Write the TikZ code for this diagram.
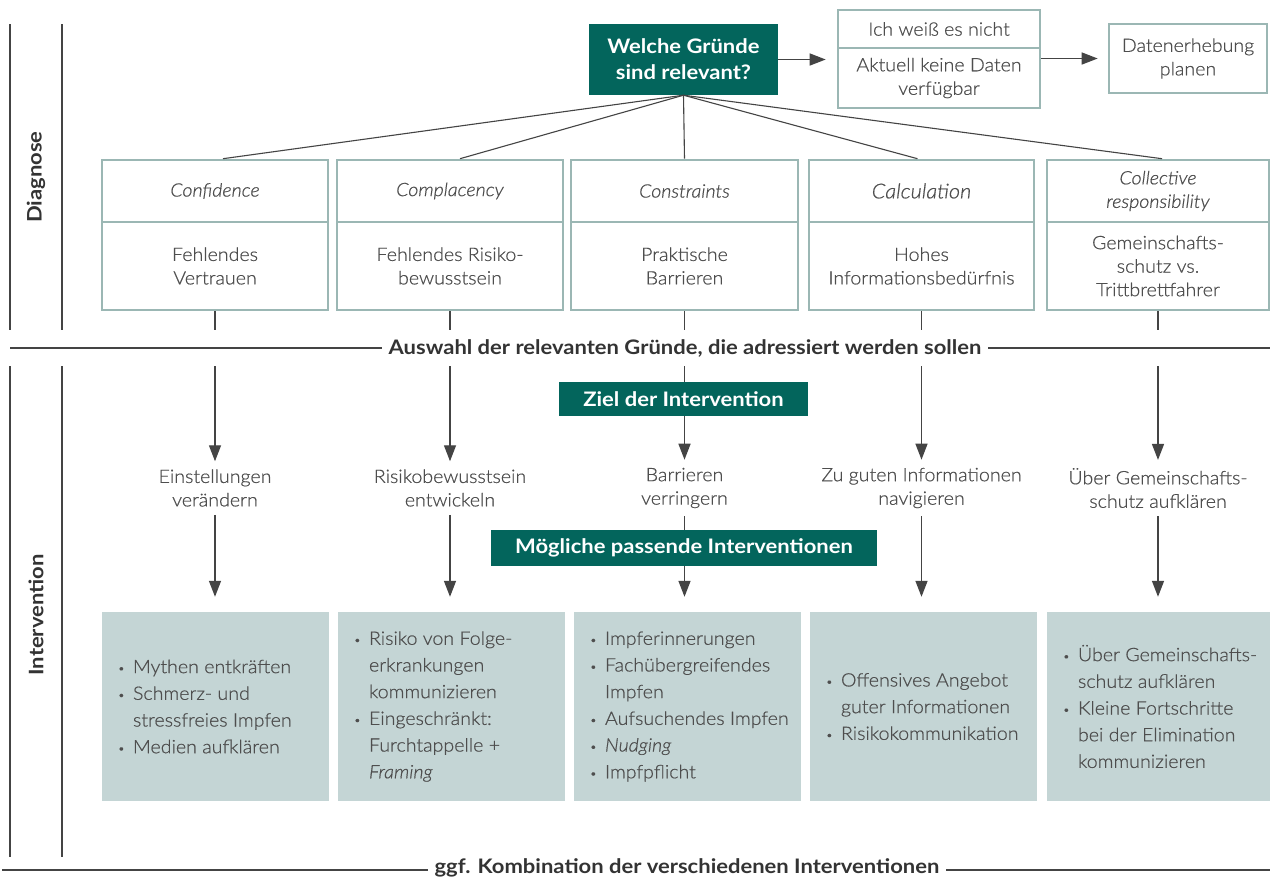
\documentclass[tikz,border=0pt]{standalone}
\usepackage{fontspec}
\setmainfont{Lato}[UprightFont=* Light, ItalicFont=* Light Italic, BoldFont=* Bold, FakeStretch=1.06, FakeBold=0.6]
\newfontfamily\hb{Lato}[UprightFont=* Bold, FakeStretch=1.1]
\usetikzlibrary{arrows.meta}
\definecolor{tealg}{RGB}{3,101,92}
\definecolor{bordg}{RGB}{155,183,180}
\definecolor{fillg}{RGB}{196,213,213}
\definecolor{lineg}{RGB}{68,68,68}
\definecolor{txtg}{RGB}{78,78,78}
\definecolor{darkg}{RGB}{51,51,51}
\newcommand{\bl}{\makebox[15pt][l]{\raisebox{1pt}{\fontsize{11}{11}\selectfont •}}}
\newcommand{\ct}{\hspace*{15pt}}
\begin{document}
\begin{tikzpicture}[x=1pt,y=-1pt,
  ln/.style={draw=lineg, line width=1.4pt},
  thinln/.style={draw=lineg, line width=1.1pt},
  arr/.style={ln, -{Triangle[length=16pt,width=12pt]}},
  gbox/.style={fill=tealg, text=white, font=\hb\fontsize{20}{26}\selectfont, align=center, inner sep=0},
  obox/.style={draw=bordg, line width=2.6pt, align=center, text=txtg, inner sep=0, font=\fontsize{18.5}{23.5}\selectfont},
  ibox/.style={fill=fillg, inner sep=0},
  lbl/.style={text=txtg, align=center, inner xsep=0, inner ysep=8, font=\fontsize{18.5}{23.5}\selectfont},
  itm/.style={text=txtg, align=left, inner sep=0, font=\fontsize{18.5}{26.7}\selectfont},
  sect/.style={text=darkg, font=\hb\fontsize{20}{20}\selectfont},
  divl/.style={fill=white, inner xsep=7, inner ysep=2, text=darkg, font=\hb\fontsize{20}{20}\selectfont}
]
\useasboundingbox (0,0) rectangle (1270,879);
\fill[white] (0,0) rectangle (1270,879);

% left section rules
\draw[ln] (10,24) -- (10,330);
\draw[ln] (62,24) -- (62,330);
\draw[ln] (10,366) -- (10,857);
\draw[ln] (62,366) -- (62,857);
\node[sect, rotate=90] (dg) at (36,177) {Diagnose};
\node[sect, rotate=90] (iv) at (36,615) {Intervention};

% dividers
\draw[ln] (10,348) -- (1270,348);
\node[divl] (auswahl) at (685,348) {Auswahl der relevanten Gründe, die adressiert werden sollen};
\draw[ln] (2,870) -- (1270,870);
\node[divl] (kombi) at (687,868) {ggf. Kombination der verschiedenen Interventionen};

% top
\node[gbox, minimum width=189, minimum height=71] (q) at (683.5,59.5) {Welche Gründe\\sind relevant?};
\node[obox, minimum width=202, minimum height=38] (ich) at (939,29) {Ich weiß es nicht};
\node[obox, minimum width=202, minimum height=60] (akt) at (939,78) {Aktuell keine Daten\\verfügbar};
\node[obox, minimum width=158, minimum height=69] (dat) at (1188,58.5) {Datenerhebung\\planen};
\draw[arr, shorten >=11pt] (q.east) -- (q.east -| akt.west);
\draw[arr, shorten >=10pt] (akt.east |- dat.west) -- (dat.west);

% columns
\foreach \i/\cx/\w/\hd/\bd/\gl/\bx/\bw/\off in {
  1/215/226/{\textit{Confidence}}/{Fehlendes\\Vertrauen}/{Einstellungen\\verändern}/215.5/227/8,
  2/450/226/{\textit{Complacency}}/{Fehlendes Risiko-\\bewusstsein}/{Risikobewusstsein\\entwickeln}/451.5/227/10,
  3/684.5/227/{\textit{Constraints}}/{Praktische\\Barrieren}/{Barrieren\\verringern}/687.5/227/0,
  4/921.5/225/{\fontsize{20.5}{24}\selectfont\textit{Calculation}}/{Hohes\\Informationsbedürfnis}/{Zu guten Informationen\\navigieren}/923.5/227/-4,
  5/1158/222/{\textit{Collective}\\\textit{responsibility}}/{Gemeinschafts-\\schutz vs.\\Trittbrettfahrer}/{Über Gemeinschafts-\\schutz aufklären}/1158.5/223/4}
{
  \node[obox, minimum width=\w, minimum height=62] (h\i) at (\cx,191) {\hd};
  \node[obox, minimum width=\w, minimum height=88] (b\i) at (\cx,266) {\bd};
  \draw[thinln] (q.south) -- ([xshift=\off]h\i.north);
  \coordinate (s\i) at (\cx,330);
  \draw[ln] (b\i.south) -- (s\i);
  \coordinate (t\i) at (\cx,366);
  \node[lbl] (g\i) at (\cx,488) {\gl};
  \draw[arr] (t\i) -- (g\i.north);
  \node[ibox, minimum width=\bw, minimum height=189] (ib\i) at (\bx,706.5) {};
  \draw[arr, shorten >=15pt] (g\i.south) -- (g\i.south |- ib\i.north);
}

\node[gbox, minimum width=249, minimum height=34] (ziel) at (683.5,399) {Ziel der Intervention};
\node[gbox, minimum width=386, minimum height=36] (moeg) at (684,548) {Mögliche passende Interventionen};

% intervention lists
\node[itm, anchor=west] (it1) at ([xshift=16]ib1.west) {\bl Mythen entkräften\\\bl Schmerz- und\\\ct stressfreies Impfen\\\bl Medien aufklären};
\node[itm, anchor=west] (it2) at ([xshift=16]ib2.west) {\bl Risiko von Folge-\\\ct erkrankungen\\\ct kommunizieren\\\bl Eingeschränkt:\\\ct Furchtappelle +\\\ct \textit{Framing}};
\node[itm, anchor=west] (it3) at ([xshift=16]ib3.west) {\bl Impferinnerungen\\\bl Fachübergreifendes\\\ct Impfen\\\bl Aufsuchendes Impfen\\\bl \textit{Nudging}\\\bl Impfpflicht};
\node[itm, anchor=west] (it4) at ([xshift=16]ib4.west) {\bl Offensives Angebot\\\ct guter Informationen\\\bl Risikokommunikation};
\node[itm, anchor=west] (it5) at ([xshift=16]ib5.west) {\bl Über Gemeinschafts-\\\ct schutz aufklären\\\bl Kleine Fortschritte\\\ct bei der Elimination\\\ct kommunizieren};
\end{tikzpicture}
\end{document}
